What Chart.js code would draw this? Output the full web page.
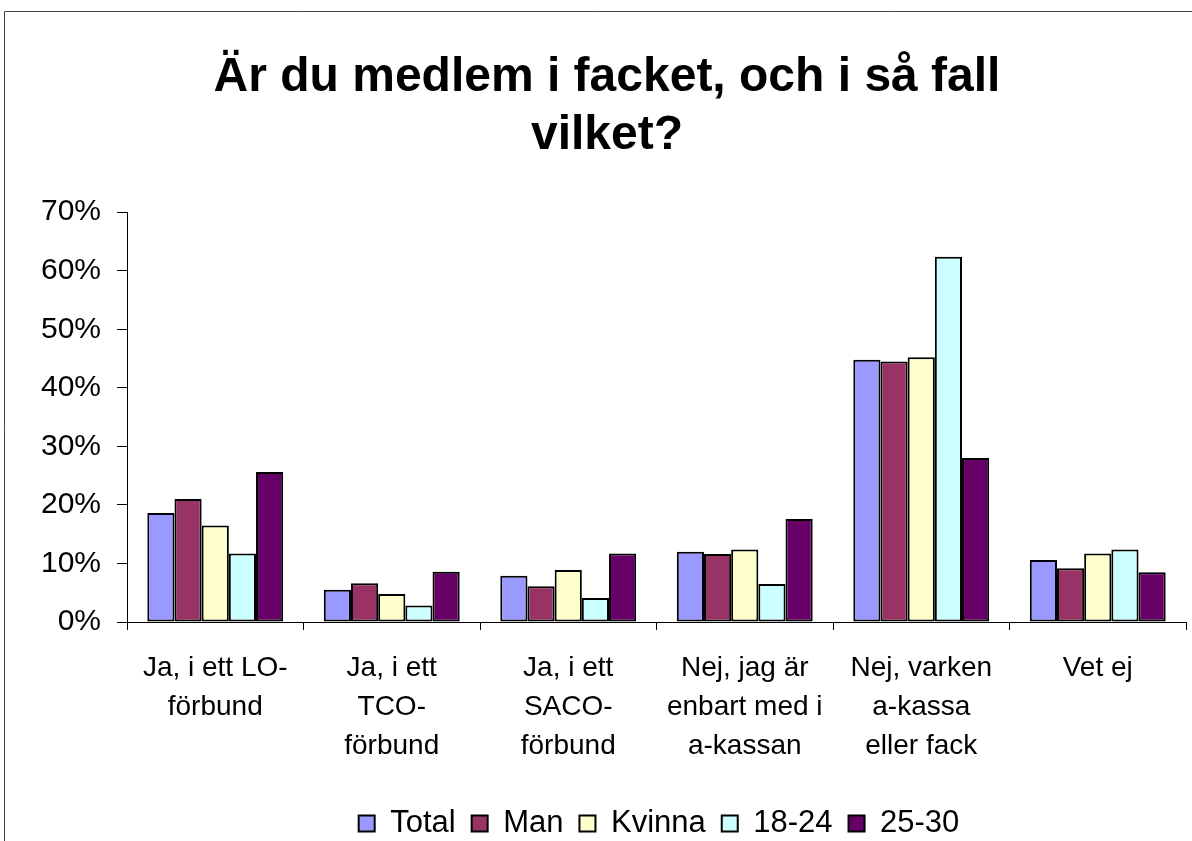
<!DOCTYPE html>
<html lang="sv">
<head>
  <meta charset="UTF-8">
  <title>Är du medlem i facket</title>
  <script src="https://cdn.jsdelivr.net/npm/chart.js"></script>
  <style>
    body { margin: 0; background: #fff; }
    #wrap { width: 1192px; height: 841px; }
  </style>
</head>
<body>
  <div id="wrap"><canvas id="fackChart" width="1192" height="841"></canvas></div>

  <script>
    const categories = [
      ['Ja, i ett LO-', 'förbund'],
      ['Ja, i ett', 'TCO-', 'förbund'],
      ['Ja, i ett', 'SACO-', 'förbund'],
      ['Nej, jag är', 'enbart med i', 'a-kassan'],
      ['Nej, varken', 'a-kassa', 'eller fack'],
      ['Vet ej']
    ];
    const total  = [18.6, 5.5, 7.9, 12.0, 44.8, 10.6];
    const man    = [21.0, 6.6, 6.1, 11.6, 44.5, 9.2];
    const kvinna = [16.5, 4.8, 8.9, 12.4, 45.2, 11.7];
    const ung    = [11.7, 2.8, 4.1, 6.5, 62.4, 12.4];
    const aldre  = [25.6, 8.6, 11.7, 17.6, 28.0, 8.5];

    const font = "'Liberation Sans', Arial, sans-serif";

    // ram runt diagrammet (bara topp och vänster syns)
    const frame = {
      id: 'frame',
      beforeDraw(chart) {
        const ctx = chart.ctx;
        ctx.save();
        ctx.strokeStyle = '#444';
        ctx.lineWidth = 1;
        ctx.beginPath();
        ctx.moveTo(4.5, 841);
        ctx.lineTo(4.5, 11.5);
        ctx.lineTo(1192, 11.5);
        ctx.stroke();
        ctx.restore();
      }
    };

    // originalet har titel och förklaring lite till höger om mitten
    const nudge = {
      id: 'nudge',
      afterLayout(chart) {
        const t = chart.titleBlock, l = chart.legend;
        if (t) { t.left += 14; t.right += 14; }
        if (l) { l.left += 66; l.right += 66; l.top += 8; l.bottom += 8; }
      }
    };

    function ds(label, data, color) {
      return {
        label: label,
        data: data,
        backgroundColor: color,
        borderColor: '#000',
        borderWidth: 2,
        borderSkipped: false,
        categoryPercentage: 0.77,
        barPercentage: 1.0
      };
    }

    new Chart(document.getElementById('fackChart').getContext('2d'), {
      type: 'bar',
      data: {
        labels: categories,
        datasets: [
          ds('Total', total, '#9999FF'),
          ds('Man', man, '#993366'),
          ds('Kvinna', kvinna, '#FFFFCC'),
          ds('18-24', ung, '#CCFFFF'),
          ds('25-30', aldre, '#660066')
        ]
      },
      options: {
        responsive: false,
        animation: false,
        layout: { padding: { left: 0, right: 6, top: 0, bottom: 0 } },
        plugins: {
          title: {
            display: true,
            text: ['Är du medlem i facket, och i så fall', 'vilket?'],
            color: '#000',
            font: { family: font, size: 48, weight: 'bold', lineHeight: 1.21 },
            padding: { top: 49, bottom: 47 }
          },
          legend: {
            position: 'bottom',
            labels: {
              color: '#000',
              font: { family: font, size: 31 },
              boxWidth: 16,
              boxHeight: 16,
              padding: 16
            }
          },
          tooltip: { enabled: false }
        },
        scales: {
          x: {
            grid: {
              display: true,
              drawOnChartArea: false,
              drawTicks: true,
              tickLength: 8,
              color: '#000'
            },
            border: { display: true, color: '#000', width: 1 },
            ticks: {
              color: '#000',
              font: { family: font, size: 28, lineHeight: 1.39 },
              padding: 19,
              maxRotation: 0,
              autoSkip: false
            },
            afterFit(scale) { scale.height = 162; }
          },
          y: {
            min: 0,
            max: 70,
            grid: {
              display: true,
              drawOnChartArea: false,
              drawTicks: true,
              tickLength: 10,
              color: '#000'
            },
            border: { display: true, color: '#000', width: 1 },
            ticks: {
              stepSize: 10,
              color: '#000',
              font: { family: font, size: 30 },
              padding: 16,
              callback: v => v + '%'
            },
            afterFit(scale) { scale.width = 127; }
          }
        }
      },
      plugins: [frame, nudge]
    });
  </script>
</body>
</html>
